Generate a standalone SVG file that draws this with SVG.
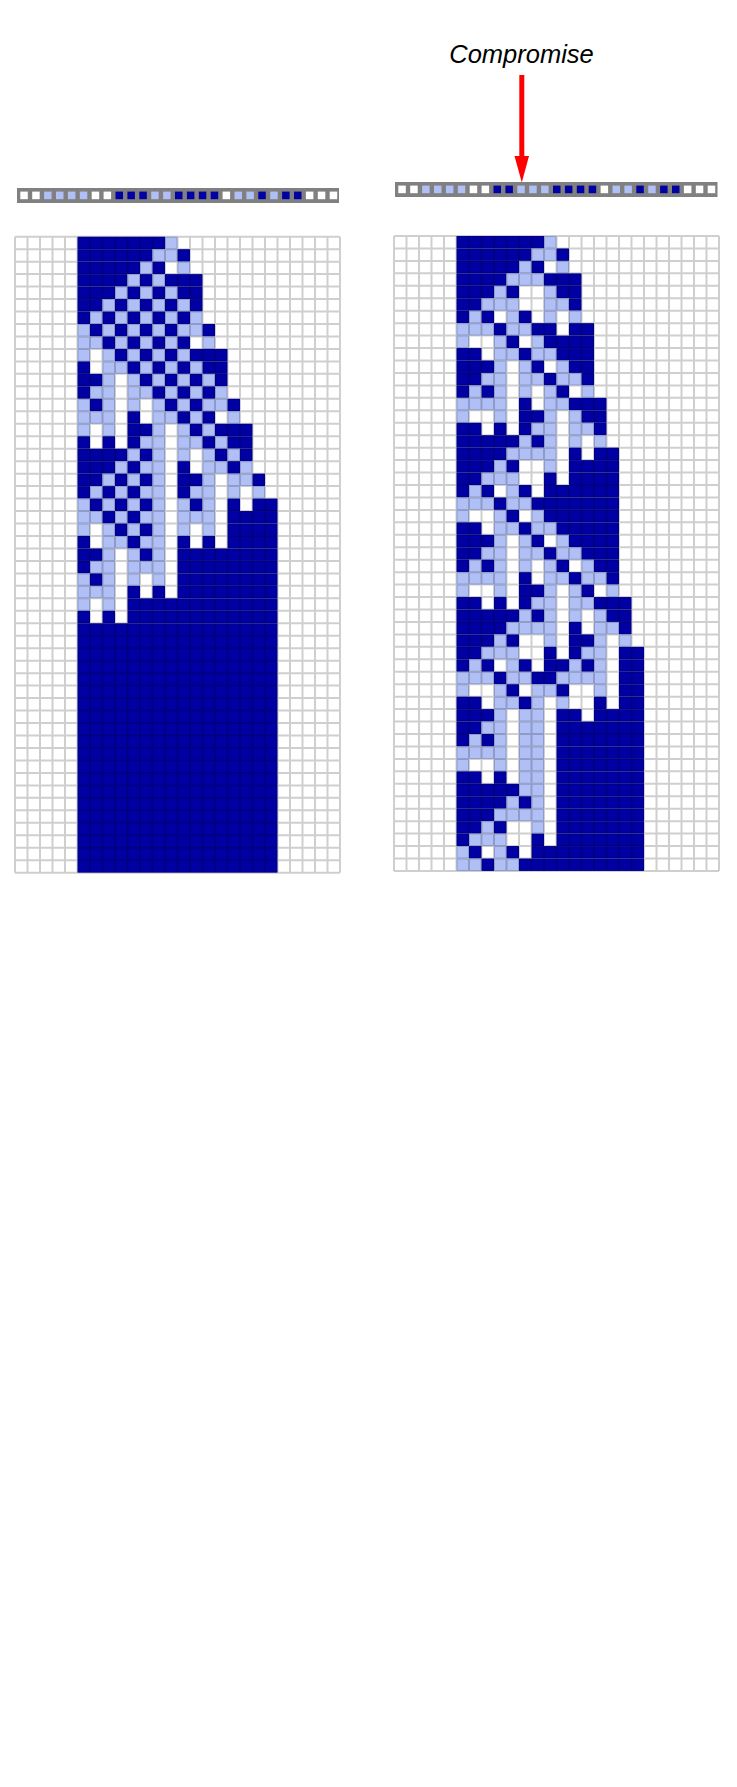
<svg xmlns="http://www.w3.org/2000/svg" xmlns:xlink="http://www.w3.org/1999/xlink" width="737" height="1787" viewBox="0 0 737 1787">
<style>
.d{fill:#0000a3}
.l{fill:#b0bff5}
.w{fill:#ffffff}
.bar{fill:#808080}
.gl{fill:none;stroke:#000;stroke-opacity:.19;stroke-width:2;vector-effect:non-scaling-stroke}
.lbl{font-family:"Liberation Sans",Arial,sans-serif;font-style:italic;font-size:25.5px;fill:#000}
</style>
<defs>
<path id="lines" class="gl" d="M0 0V51M1 0V51M2 0V51M3 0V51M4 0V51M5 0V51M6 0V51M7 0V51M8 0V51M9 0V51M10 0V51M11 0V51M12 0V51M13 0V51M14 0V51M15 0V51M16 0V51M17 0V51M18 0V51M19 0V51M20 0V51M21 0V51M22 0V51M23 0V51M24 0V51M25 0V51M26 0V51M0 0H26M0 1H26M0 2H26M0 3H26M0 4H26M0 5H26M0 6H26M0 7H26M0 8H26M0 9H26M0 10H26M0 11H26M0 12H26M0 13H26M0 14H26M0 15H26M0 16H26M0 17H26M0 18H26M0 19H26M0 20H26M0 21H26M0 22H26M0 23H26M0 24H26M0 25H26M0 26H26M0 27H26M0 28H26M0 29H26M0 30H26M0 31H26M0 32H26M0 33H26M0 34H26M0 35H26M0 36H26M0 37H26M0 38H26M0 39H26M0 40H26M0 41H26M0 42H26M0 43H26M0 44H26M0 45H26M0 46H26M0 47H26M0 48H26M0 49H26M0 50H26M0 51H26"/>
</defs>
<rect x="0" y="0" width="737" height="1787" fill="#ffffff"/>

<g id="label">
<text class="lbl" x="521.5" y="62.5" text-anchor="middle">Compromise</text>
</g>

<g id="connectors">
<line x1="521.8" y1="75" x2="521.8" y2="160" stroke="#ff0000" stroke-width="5"/>
<polygon points="514.5,156 529,156 521.8,182.5" fill="#ff0000"/>
</g>

<g id="rule-left">
<rect class="bar" x="17" y="188" width="322" height="15"/>
<g transform="translate(20.3 191.6)">
<rect class="w" x="0" y="0" width="7.5" height="7.6"/>
<rect class="w" x="11.9" y="0" width="7.5" height="7.6"/>
<rect class="l" x="23.8" y="0" width="7.5" height="7.6"/>
<rect class="l" x="35.7" y="0" width="7.5" height="7.6"/>
<rect class="l" x="47.6" y="0" width="7.5" height="7.6"/>
<rect class="l" x="59.5" y="0" width="7.5" height="7.6"/>
<rect class="w" x="71.4" y="0" width="7.5" height="7.6"/>
<rect class="w" x="83.3" y="0" width="7.5" height="7.6"/>
<rect class="d" x="95.2" y="0" width="7.5" height="7.6"/>
<rect class="d" x="107.1" y="0" width="7.5" height="7.6"/>
<rect class="d" x="119" y="0" width="7.5" height="7.6"/>
<rect class="l" x="130.9" y="0" width="7.5" height="7.6"/>
<rect class="l" x="142.8" y="0" width="7.5" height="7.6"/>
<rect class="d" x="154.7" y="0" width="7.5" height="7.6"/>
<rect class="d" x="166.6" y="0" width="7.5" height="7.6"/>
<rect class="d" x="178.5" y="0" width="7.5" height="7.6"/>
<rect class="d" x="190.4" y="0" width="7.5" height="7.6"/>
<rect class="w" x="202.3" y="0" width="7.5" height="7.6"/>
<rect class="l" x="214.2" y="0" width="7.5" height="7.6"/>
<rect class="l" x="226.1" y="0" width="7.5" height="7.6"/>
<rect class="d" x="238" y="0" width="7.5" height="7.6"/>
<rect class="l" x="249.9" y="0" width="7.5" height="7.6"/>
<rect class="d" x="261.8" y="0" width="7.5" height="7.6"/>
<rect class="d" x="273.7" y="0" width="7.5" height="7.6"/>
<rect class="w" x="285.6" y="0" width="7.5" height="7.6"/>
<rect class="w" x="297.5" y="0" width="7.5" height="7.6"/>
<rect class="w" x="309.4" y="0" width="7.5" height="7.6"/>
</g>
</g>

<g id="rule-right">
<rect class="bar" x="395" y="182" width="322.5" height="15"/>
<g transform="translate(398.3 185.6)">
<rect class="w" x="0" y="0" width="7.5" height="7.6"/>
<rect class="w" x="11.9" y="0" width="7.5" height="7.6"/>
<rect class="l" x="23.8" y="0" width="7.5" height="7.6"/>
<rect class="l" x="35.7" y="0" width="7.5" height="7.6"/>
<rect class="l" x="47.6" y="0" width="7.5" height="7.6"/>
<rect class="l" x="59.5" y="0" width="7.5" height="7.6"/>
<rect class="w" x="71.4" y="0" width="7.5" height="7.6"/>
<rect class="w" x="83.3" y="0" width="7.5" height="7.6"/>
<rect class="d" x="95.2" y="0" width="7.5" height="7.6"/>
<rect class="d" x="107.1" y="0" width="7.5" height="7.6"/>
<rect class="l" x="119" y="0" width="7.5" height="7.6"/>
<rect class="l" x="130.9" y="0" width="7.5" height="7.6"/>
<rect class="l" x="142.8" y="0" width="7.5" height="7.6"/>
<rect class="d" x="154.7" y="0" width="7.5" height="7.6"/>
<rect class="d" x="166.6" y="0" width="7.5" height="7.6"/>
<rect class="d" x="178.5" y="0" width="7.5" height="7.6"/>
<rect class="d" x="190.4" y="0" width="7.5" height="7.6"/>
<rect class="w" x="202.3" y="0" width="7.5" height="7.6"/>
<rect class="l" x="214.2" y="0" width="7.5" height="7.6"/>
<rect class="l" x="226.1" y="0" width="7.5" height="7.6"/>
<rect class="d" x="238" y="0" width="7.5" height="7.6"/>
<rect class="l" x="249.9" y="0" width="7.5" height="7.6"/>
<rect class="d" x="261.8" y="0" width="7.5" height="7.6"/>
<rect class="d" x="273.7" y="0" width="7.5" height="7.6"/>
<rect class="w" x="285.6" y="0" width="7.5" height="7.6"/>
<rect class="w" x="297.5" y="0" width="7.5" height="7.6"/>
<rect class="w" x="309.4" y="0" width="7.5" height="7.6"/>
</g>
</g>

<g id="grid-left" transform="translate(15 236.7) scale(12.5 12.47)">
<rect class="d" x="5" y="0" width="7" height="1"/><rect class="l" x="12" y="0" width="1" height="1"/>
<rect class="d" x="5" y="1" width="6" height="1"/><rect class="l" x="11" y="1" width="2" height="1"/><rect class="d" x="13" y="1" width="1" height="1"/>
<rect class="d" x="5" y="2" width="5" height="1"/><rect class="l" x="10" y="2" width="1" height="1"/><rect class="d" x="11" y="2" width="1" height="1"/><rect class="l" x="13" y="2" width="1" height="1"/>
<rect class="d" x="5" y="3" width="4" height="1"/><rect class="l" x="9" y="3" width="1" height="1"/><rect class="d" x="10" y="3" width="1" height="1"/><rect class="l" x="11" y="3" width="1" height="1"/><rect class="d" x="12" y="3" width="3" height="1"/>
<rect class="d" x="5" y="4" width="3" height="1"/><rect class="l" x="8" y="4" width="1" height="1"/><rect class="d" x="9" y="4" width="1" height="1"/><rect class="l" x="10" y="4" width="1" height="1"/><rect class="d" x="11" y="4" width="1" height="1"/><rect class="l" x="12" y="4" width="1" height="1"/><rect class="d" x="13" y="4" width="2" height="1"/>
<rect class="d" x="5" y="5" width="2" height="1"/><rect class="l" x="7" y="5" width="1" height="1"/><rect class="d" x="8" y="5" width="1" height="1"/><rect class="l" x="9" y="5" width="1" height="1"/><rect class="d" x="10" y="5" width="1" height="1"/><rect class="l" x="11" y="5" width="1" height="1"/><rect class="d" x="12" y="5" width="1" height="1"/><rect class="l" x="13" y="5" width="1" height="1"/><rect class="d" x="14" y="5" width="1" height="1"/>
<rect class="d" x="5" y="6" width="1" height="1"/><rect class="l" x="6" y="6" width="1" height="1"/><rect class="d" x="7" y="6" width="1" height="1"/><rect class="l" x="8" y="6" width="1" height="1"/><rect class="d" x="9" y="6" width="1" height="1"/><rect class="l" x="10" y="6" width="1" height="1"/><rect class="d" x="11" y="6" width="1" height="1"/><rect class="l" x="12" y="6" width="1" height="1"/><rect class="d" x="13" y="6" width="1" height="1"/><rect class="l" x="14" y="6" width="1" height="1"/>
<rect class="l" x="5" y="7" width="1" height="1"/><rect class="d" x="6" y="7" width="1" height="1"/><rect class="l" x="7" y="7" width="1" height="1"/><rect class="d" x="8" y="7" width="1" height="1"/><rect class="l" x="9" y="7" width="1" height="1"/><rect class="d" x="10" y="7" width="1" height="1"/><rect class="l" x="11" y="7" width="1" height="1"/><rect class="d" x="12" y="7" width="1" height="1"/><rect class="l" x="13" y="7" width="2" height="1"/><rect class="d" x="15" y="7" width="1" height="1"/>
<rect class="l" x="5" y="8" width="2" height="1"/><rect class="d" x="7" y="8" width="1" height="1"/><rect class="l" x="8" y="8" width="1" height="1"/><rect class="d" x="9" y="8" width="1" height="1"/><rect class="l" x="10" y="8" width="1" height="1"/><rect class="d" x="11" y="8" width="1" height="1"/><rect class="l" x="12" y="8" width="1" height="1"/><rect class="d" x="13" y="8" width="1" height="1"/><rect class="l" x="15" y="8" width="1" height="1"/>
<rect class="l" x="5" y="9" width="1" height="1"/><rect class="l" x="7" y="9" width="1" height="1"/><rect class="d" x="8" y="9" width="1" height="1"/><rect class="l" x="9" y="9" width="1" height="1"/><rect class="d" x="10" y="9" width="1" height="1"/><rect class="l" x="11" y="9" width="1" height="1"/><rect class="d" x="12" y="9" width="1" height="1"/><rect class="l" x="13" y="9" width="1" height="1"/><rect class="d" x="14" y="9" width="3" height="1"/>
<rect class="d" x="5" y="10" width="1" height="1"/><rect class="l" x="7" y="10" width="2" height="1"/><rect class="d" x="9" y="10" width="1" height="1"/><rect class="l" x="10" y="10" width="1" height="1"/><rect class="d" x="11" y="10" width="1" height="1"/><rect class="l" x="12" y="10" width="1" height="1"/><rect class="d" x="13" y="10" width="1" height="1"/><rect class="l" x="14" y="10" width="1" height="1"/><rect class="d" x="15" y="10" width="2" height="1"/>
<rect class="d" x="5" y="11" width="2" height="1"/><rect class="l" x="7" y="11" width="1" height="1"/><rect class="l" x="9" y="11" width="1" height="1"/><rect class="d" x="10" y="11" width="1" height="1"/><rect class="l" x="11" y="11" width="1" height="1"/><rect class="d" x="12" y="11" width="1" height="1"/><rect class="l" x="13" y="11" width="1" height="1"/><rect class="d" x="14" y="11" width="1" height="1"/><rect class="l" x="15" y="11" width="1" height="1"/><rect class="d" x="16" y="11" width="1" height="1"/>
<rect class="d" x="5" y="12" width="1" height="1"/><rect class="l" x="6" y="12" width="2" height="1"/><rect class="l" x="9" y="12" width="2" height="1"/><rect class="d" x="11" y="12" width="1" height="1"/><rect class="l" x="12" y="12" width="1" height="1"/><rect class="d" x="13" y="12" width="1" height="1"/><rect class="l" x="14" y="12" width="1" height="1"/><rect class="d" x="15" y="12" width="1" height="1"/><rect class="l" x="16" y="12" width="1" height="1"/>
<rect class="l" x="5" y="13" width="1" height="1"/><rect class="d" x="6" y="13" width="1" height="1"/><rect class="l" x="7" y="13" width="1" height="1"/><rect class="l" x="9" y="13" width="1" height="1"/><rect class="l" x="11" y="13" width="1" height="1"/><rect class="d" x="12" y="13" width="1" height="1"/><rect class="l" x="13" y="13" width="1" height="1"/><rect class="d" x="14" y="13" width="1" height="1"/><rect class="l" x="15" y="13" width="2" height="1"/><rect class="d" x="17" y="13" width="1" height="1"/>
<rect class="l" x="5" y="14" width="3" height="1"/><rect class="d" x="9" y="14" width="1" height="1"/><rect class="l" x="11" y="14" width="2" height="1"/><rect class="d" x="13" y="14" width="1" height="1"/><rect class="l" x="14" y="14" width="1" height="1"/><rect class="d" x="15" y="14" width="1" height="1"/><rect class="l" x="17" y="14" width="1" height="1"/>
<rect class="l" x="5" y="15" width="1" height="1"/><rect class="l" x="7" y="15" width="1" height="1"/><rect class="d" x="9" y="15" width="2" height="1"/><rect class="l" x="11" y="15" width="1" height="1"/><rect class="l" x="13" y="15" width="1" height="1"/><rect class="d" x="14" y="15" width="1" height="1"/><rect class="l" x="15" y="15" width="1" height="1"/><rect class="d" x="16" y="15" width="3" height="1"/>
<rect class="d" x="5" y="16" width="1" height="1"/><rect class="d" x="7" y="16" width="1" height="1"/><rect class="d" x="9" y="16" width="1" height="1"/><rect class="l" x="10" y="16" width="2" height="1"/><rect class="l" x="13" y="16" width="2" height="1"/><rect class="d" x="15" y="16" width="1" height="1"/><rect class="l" x="16" y="16" width="1" height="1"/><rect class="d" x="17" y="16" width="2" height="1"/>
<rect class="d" x="5" y="17" width="4" height="1"/><rect class="l" x="9" y="17" width="1" height="1"/><rect class="d" x="10" y="17" width="1" height="1"/><rect class="l" x="11" y="17" width="1" height="1"/><rect class="l" x="13" y="17" width="1" height="1"/><rect class="l" x="15" y="17" width="1" height="1"/><rect class="d" x="16" y="17" width="1" height="1"/><rect class="l" x="17" y="17" width="1" height="1"/><rect class="d" x="18" y="17" width="1" height="1"/>
<rect class="d" x="5" y="18" width="3" height="1"/><rect class="l" x="8" y="18" width="1" height="1"/><rect class="d" x="9" y="18" width="1" height="1"/><rect class="l" x="10" y="18" width="2" height="1"/><rect class="d" x="13" y="18" width="1" height="1"/><rect class="l" x="15" y="18" width="2" height="1"/><rect class="d" x="17" y="18" width="1" height="1"/><rect class="l" x="18" y="18" width="1" height="1"/>
<rect class="d" x="5" y="19" width="2" height="1"/><rect class="l" x="7" y="19" width="1" height="1"/><rect class="d" x="8" y="19" width="1" height="1"/><rect class="l" x="9" y="19" width="1" height="1"/><rect class="d" x="10" y="19" width="1" height="1"/><rect class="l" x="11" y="19" width="1" height="1"/><rect class="d" x="13" y="19" width="2" height="1"/><rect class="l" x="15" y="19" width="1" height="1"/><rect class="l" x="17" y="19" width="2" height="1"/><rect class="d" x="19" y="19" width="1" height="1"/>
<rect class="d" x="5" y="20" width="1" height="1"/><rect class="l" x="6" y="20" width="1" height="1"/><rect class="d" x="7" y="20" width="1" height="1"/><rect class="l" x="8" y="20" width="1" height="1"/><rect class="d" x="9" y="20" width="1" height="1"/><rect class="l" x="10" y="20" width="2" height="1"/><rect class="d" x="13" y="20" width="1" height="1"/><rect class="l" x="14" y="20" width="2" height="1"/><rect class="l" x="17" y="20" width="1" height="1"/><rect class="l" x="19" y="20" width="1" height="1"/>
<rect class="l" x="5" y="21" width="1" height="1"/><rect class="d" x="6" y="21" width="1" height="1"/><rect class="l" x="7" y="21" width="1" height="1"/><rect class="d" x="8" y="21" width="1" height="1"/><rect class="l" x="9" y="21" width="1" height="1"/><rect class="d" x="10" y="21" width="1" height="1"/><rect class="l" x="11" y="21" width="1" height="1"/><rect class="l" x="13" y="21" width="1" height="1"/><rect class="d" x="14" y="21" width="1" height="1"/><rect class="l" x="15" y="21" width="1" height="1"/><rect class="d" x="17" y="21" width="1" height="1"/><rect class="d" x="19" y="21" width="2" height="1"/>
<rect class="l" x="5" y="22" width="2" height="1"/><rect class="d" x="7" y="22" width="1" height="1"/><rect class="l" x="8" y="22" width="1" height="1"/><rect class="d" x="9" y="22" width="1" height="1"/><rect class="l" x="10" y="22" width="2" height="1"/><rect class="l" x="13" y="22" width="3" height="1"/><rect class="d" x="17" y="22" width="4" height="1"/>
<rect class="l" x="5" y="23" width="1" height="1"/><rect class="l" x="7" y="23" width="1" height="1"/><rect class="d" x="8" y="23" width="1" height="1"/><rect class="l" x="9" y="23" width="1" height="1"/><rect class="d" x="10" y="23" width="1" height="1"/><rect class="l" x="11" y="23" width="1" height="1"/><rect class="l" x="13" y="23" width="1" height="1"/><rect class="l" x="15" y="23" width="1" height="1"/><rect class="d" x="17" y="23" width="4" height="1"/>
<rect class="d" x="5" y="24" width="1" height="1"/><rect class="l" x="7" y="24" width="2" height="1"/><rect class="d" x="9" y="24" width="1" height="1"/><rect class="l" x="10" y="24" width="2" height="1"/><rect class="d" x="13" y="24" width="1" height="1"/><rect class="d" x="15" y="24" width="1" height="1"/><rect class="d" x="17" y="24" width="4" height="1"/>
<rect class="d" x="5" y="25" width="2" height="1"/><rect class="l" x="7" y="25" width="1" height="1"/><rect class="l" x="9" y="25" width="1" height="1"/><rect class="d" x="10" y="25" width="1" height="1"/><rect class="l" x="11" y="25" width="1" height="1"/><rect class="d" x="13" y="25" width="8" height="1"/>
<rect class="d" x="5" y="26" width="1" height="1"/><rect class="l" x="6" y="26" width="2" height="1"/><rect class="l" x="9" y="26" width="3" height="1"/><rect class="d" x="13" y="26" width="8" height="1"/>
<rect class="l" x="5" y="27" width="1" height="1"/><rect class="d" x="6" y="27" width="1" height="1"/><rect class="l" x="7" y="27" width="1" height="1"/><rect class="l" x="9" y="27" width="1" height="1"/><rect class="l" x="11" y="27" width="1" height="1"/><rect class="d" x="13" y="27" width="8" height="1"/>
<rect class="l" x="5" y="28" width="3" height="1"/><rect class="d" x="9" y="28" width="1" height="1"/><rect class="d" x="11" y="28" width="1" height="1"/><rect class="d" x="13" y="28" width="8" height="1"/>
<rect class="l" x="5" y="29" width="1" height="1"/><rect class="l" x="7" y="29" width="1" height="1"/><rect class="d" x="9" y="29" width="12" height="1"/>
<rect class="d" x="5" y="30" width="1" height="1"/><rect class="d" x="7" y="30" width="1" height="1"/><rect class="d" x="9" y="30" width="12" height="1"/>
<rect class="d" x="5" y="31" width="16" height="20"/>
<use xlink:href="#lines"/>
</g>

<g id="grid-right" transform="translate(394 236) scale(12.5 12.45)">
<rect class="d" x="5" y="0" width="7" height="1"/><rect class="l" x="12" y="0" width="1" height="1"/>
<rect class="d" x="5" y="1" width="6" height="1"/><rect class="l" x="11" y="1" width="2" height="1"/><rect class="d" x="13" y="1" width="1" height="1"/>
<rect class="d" x="5" y="2" width="5" height="1"/><rect class="l" x="10" y="2" width="1" height="1"/><rect class="d" x="11" y="2" width="1" height="1"/><rect class="l" x="13" y="2" width="1" height="1"/>
<rect class="d" x="5" y="3" width="4" height="1"/><rect class="l" x="9" y="3" width="3" height="1"/><rect class="d" x="12" y="3" width="3" height="1"/>
<rect class="d" x="5" y="4" width="3" height="1"/><rect class="l" x="8" y="4" width="1" height="1"/><rect class="d" x="9" y="4" width="1" height="1"/><rect class="l" x="12" y="4" width="1" height="1"/><rect class="d" x="13" y="4" width="2" height="1"/>
<rect class="d" x="5" y="5" width="2" height="1"/><rect class="l" x="7" y="5" width="3" height="1"/><rect class="l" x="12" y="5" width="2" height="1"/><rect class="d" x="14" y="5" width="1" height="1"/>
<rect class="d" x="5" y="6" width="1" height="1"/><rect class="l" x="6" y="6" width="1" height="1"/><rect class="d" x="7" y="6" width="1" height="1"/><rect class="l" x="9" y="6" width="1" height="1"/><rect class="d" x="10" y="6" width="1" height="1"/><rect class="l" x="12" y="6" width="1" height="1"/><rect class="l" x="14" y="6" width="1" height="1"/>
<rect class="l" x="5" y="7" width="3" height="1"/><rect class="d" x="8" y="7" width="1" height="1"/><rect class="l" x="9" y="7" width="2" height="1"/><rect class="d" x="11" y="7" width="2" height="1"/><rect class="d" x="14" y="7" width="2" height="1"/>
<rect class="l" x="5" y="8" width="1" height="1"/><rect class="l" x="8" y="8" width="1" height="1"/><rect class="d" x="9" y="8" width="1" height="1"/><rect class="l" x="11" y="8" width="1" height="1"/><rect class="d" x="12" y="8" width="4" height="1"/>
<rect class="d" x="5" y="9" width="2" height="1"/><rect class="l" x="8" y="9" width="2" height="1"/><rect class="d" x="10" y="9" width="1" height="1"/><rect class="l" x="11" y="9" width="2" height="1"/><rect class="d" x="13" y="9" width="3" height="1"/>
<rect class="d" x="5" y="10" width="3" height="1"/><rect class="l" x="8" y="10" width="1" height="1"/><rect class="l" x="10" y="10" width="1" height="1"/><rect class="d" x="11" y="10" width="1" height="1"/><rect class="l" x="13" y="10" width="1" height="1"/><rect class="d" x="14" y="10" width="2" height="1"/>
<rect class="d" x="5" y="11" width="2" height="1"/><rect class="l" x="7" y="11" width="2" height="1"/><rect class="l" x="10" y="11" width="2" height="1"/><rect class="d" x="12" y="11" width="1" height="1"/><rect class="l" x="13" y="11" width="2" height="1"/><rect class="d" x="15" y="11" width="1" height="1"/>
<rect class="d" x="5" y="12" width="1" height="1"/><rect class="l" x="6" y="12" width="1" height="1"/><rect class="d" x="7" y="12" width="1" height="1"/><rect class="l" x="8" y="12" width="1" height="1"/><rect class="l" x="10" y="12" width="1" height="1"/><rect class="l" x="12" y="12" width="1" height="1"/><rect class="d" x="13" y="12" width="1" height="1"/><rect class="l" x="15" y="12" width="1" height="1"/>
<rect class="l" x="5" y="13" width="4" height="1"/><rect class="d" x="10" y="13" width="1" height="1"/><rect class="l" x="12" y="13" width="2" height="1"/><rect class="d" x="14" y="13" width="3" height="1"/>
<rect class="l" x="5" y="14" width="1" height="1"/><rect class="l" x="8" y="14" width="1" height="1"/><rect class="d" x="10" y="14" width="2" height="1"/><rect class="l" x="12" y="14" width="1" height="1"/><rect class="l" x="14" y="14" width="1" height="1"/><rect class="d" x="15" y="14" width="2" height="1"/>
<rect class="d" x="5" y="15" width="2" height="1"/><rect class="d" x="8" y="15" width="1" height="1"/><rect class="d" x="10" y="15" width="1" height="1"/><rect class="l" x="11" y="15" width="2" height="1"/><rect class="l" x="14" y="15" width="2" height="1"/><rect class="d" x="16" y="15" width="1" height="1"/>
<rect class="d" x="5" y="16" width="5" height="1"/><rect class="l" x="10" y="16" width="1" height="1"/><rect class="d" x="11" y="16" width="1" height="1"/><rect class="l" x="12" y="16" width="1" height="1"/><rect class="l" x="14" y="16" width="1" height="1"/><rect class="l" x="16" y="16" width="1" height="1"/>
<rect class="d" x="5" y="17" width="4" height="1"/><rect class="l" x="9" y="17" width="4" height="1"/><rect class="d" x="14" y="17" width="1" height="1"/><rect class="d" x="16" y="17" width="2" height="1"/>
<rect class="d" x="5" y="18" width="3" height="1"/><rect class="l" x="8" y="18" width="1" height="1"/><rect class="d" x="9" y="18" width="1" height="1"/><rect class="l" x="12" y="18" width="1" height="1"/><rect class="d" x="14" y="18" width="4" height="1"/>
<rect class="d" x="5" y="19" width="2" height="1"/><rect class="l" x="7" y="19" width="3" height="1"/><rect class="d" x="12" y="19" width="1" height="1"/><rect class="d" x="14" y="19" width="4" height="1"/>
<rect class="d" x="5" y="20" width="1" height="1"/><rect class="l" x="6" y="20" width="1" height="1"/><rect class="d" x="7" y="20" width="1" height="1"/><rect class="l" x="9" y="20" width="1" height="1"/><rect class="d" x="10" y="20" width="1" height="1"/><rect class="d" x="12" y="20" width="6" height="1"/>
<rect class="l" x="5" y="21" width="3" height="1"/><rect class="d" x="8" y="21" width="1" height="1"/><rect class="l" x="9" y="21" width="2" height="1"/><rect class="d" x="11" y="21" width="7" height="1"/>
<rect class="l" x="5" y="22" width="1" height="1"/><rect class="l" x="8" y="22" width="1" height="1"/><rect class="d" x="9" y="22" width="1" height="1"/><rect class="l" x="11" y="22" width="1" height="1"/><rect class="d" x="12" y="22" width="6" height="1"/>
<rect class="d" x="5" y="23" width="2" height="1"/><rect class="l" x="8" y="23" width="2" height="1"/><rect class="d" x="10" y="23" width="1" height="1"/><rect class="l" x="11" y="23" width="2" height="1"/><rect class="d" x="13" y="23" width="5" height="1"/>
<rect class="d" x="5" y="24" width="3" height="1"/><rect class="l" x="8" y="24" width="1" height="1"/><rect class="l" x="10" y="24" width="1" height="1"/><rect class="d" x="11" y="24" width="1" height="1"/><rect class="l" x="13" y="24" width="1" height="1"/><rect class="d" x="14" y="24" width="4" height="1"/>
<rect class="d" x="5" y="25" width="2" height="1"/><rect class="l" x="7" y="25" width="2" height="1"/><rect class="l" x="10" y="25" width="2" height="1"/><rect class="d" x="12" y="25" width="1" height="1"/><rect class="l" x="13" y="25" width="2" height="1"/><rect class="d" x="15" y="25" width="3" height="1"/>
<rect class="d" x="5" y="26" width="1" height="1"/><rect class="l" x="6" y="26" width="1" height="1"/><rect class="d" x="7" y="26" width="1" height="1"/><rect class="l" x="8" y="26" width="1" height="1"/><rect class="l" x="10" y="26" width="1" height="1"/><rect class="l" x="12" y="26" width="1" height="1"/><rect class="d" x="13" y="26" width="1" height="1"/><rect class="l" x="15" y="26" width="1" height="1"/><rect class="d" x="16" y="26" width="2" height="1"/>
<rect class="l" x="5" y="27" width="4" height="1"/><rect class="d" x="10" y="27" width="1" height="1"/><rect class="l" x="12" y="27" width="2" height="1"/><rect class="d" x="14" y="27" width="1" height="1"/><rect class="l" x="15" y="27" width="2" height="1"/><rect class="d" x="17" y="27" width="1" height="1"/>
<rect class="l" x="5" y="28" width="1" height="1"/><rect class="l" x="8" y="28" width="1" height="1"/><rect class="d" x="10" y="28" width="2" height="1"/><rect class="l" x="12" y="28" width="1" height="1"/><rect class="l" x="14" y="28" width="1" height="1"/><rect class="d" x="15" y="28" width="1" height="1"/><rect class="l" x="17" y="28" width="1" height="1"/>
<rect class="d" x="5" y="29" width="2" height="1"/><rect class="d" x="8" y="29" width="1" height="1"/><rect class="d" x="10" y="29" width="1" height="1"/><rect class="l" x="11" y="29" width="2" height="1"/><rect class="l" x="14" y="29" width="2" height="1"/><rect class="d" x="16" y="29" width="3" height="1"/>
<rect class="d" x="5" y="30" width="5" height="1"/><rect class="l" x="10" y="30" width="1" height="1"/><rect class="d" x="11" y="30" width="1" height="1"/><rect class="l" x="12" y="30" width="1" height="1"/><rect class="l" x="14" y="30" width="1" height="1"/><rect class="l" x="16" y="30" width="1" height="1"/><rect class="d" x="17" y="30" width="2" height="1"/>
<rect class="d" x="5" y="31" width="4" height="1"/><rect class="l" x="9" y="31" width="4" height="1"/><rect class="d" x="14" y="31" width="1" height="1"/><rect class="l" x="16" y="31" width="2" height="1"/><rect class="d" x="18" y="31" width="1" height="1"/>
<rect class="d" x="5" y="32" width="3" height="1"/><rect class="l" x="8" y="32" width="1" height="1"/><rect class="d" x="9" y="32" width="1" height="1"/><rect class="l" x="12" y="32" width="1" height="1"/><rect class="d" x="14" y="32" width="2" height="1"/><rect class="l" x="16" y="32" width="1" height="1"/><rect class="l" x="18" y="32" width="1" height="1"/>
<rect class="d" x="5" y="33" width="2" height="1"/><rect class="l" x="7" y="33" width="3" height="1"/><rect class="d" x="12" y="33" width="1" height="1"/><rect class="d" x="14" y="33" width="1" height="1"/><rect class="l" x="15" y="33" width="2" height="1"/><rect class="d" x="18" y="33" width="2" height="1"/>
<rect class="d" x="5" y="34" width="1" height="1"/><rect class="l" x="6" y="34" width="1" height="1"/><rect class="d" x="7" y="34" width="1" height="1"/><rect class="l" x="9" y="34" width="1" height="1"/><rect class="d" x="10" y="34" width="1" height="1"/><rect class="d" x="12" y="34" width="2" height="1"/><rect class="l" x="14" y="34" width="1" height="1"/><rect class="d" x="15" y="34" width="1" height="1"/><rect class="l" x="16" y="34" width="1" height="1"/><rect class="d" x="18" y="34" width="2" height="1"/>
<rect class="l" x="5" y="35" width="3" height="1"/><rect class="d" x="8" y="35" width="1" height="1"/><rect class="l" x="9" y="35" width="2" height="1"/><rect class="d" x="11" y="35" width="2" height="1"/><rect class="l" x="13" y="35" width="4" height="1"/><rect class="d" x="18" y="35" width="2" height="1"/>
<rect class="l" x="5" y="36" width="1" height="1"/><rect class="l" x="8" y="36" width="1" height="1"/><rect class="d" x="9" y="36" width="1" height="1"/><rect class="l" x="11" y="36" width="2" height="1"/><rect class="d" x="13" y="36" width="1" height="1"/><rect class="l" x="16" y="36" width="1" height="1"/><rect class="d" x="18" y="36" width="2" height="1"/>
<rect class="d" x="5" y="37" width="2" height="1"/><rect class="l" x="8" y="37" width="2" height="1"/><rect class="d" x="10" y="37" width="1" height="1"/><rect class="l" x="11" y="37" width="1" height="1"/><rect class="l" x="13" y="37" width="1" height="1"/><rect class="d" x="16" y="37" width="1" height="1"/><rect class="d" x="18" y="37" width="2" height="1"/>
<rect class="d" x="5" y="38" width="3" height="1"/><rect class="l" x="8" y="38" width="1" height="1"/><rect class="l" x="10" y="38" width="2" height="1"/><rect class="d" x="13" y="38" width="2" height="1"/><rect class="d" x="16" y="38" width="4" height="1"/>
<rect class="d" x="5" y="39" width="2" height="1"/><rect class="l" x="7" y="39" width="2" height="1"/><rect class="l" x="10" y="39" width="2" height="1"/><rect class="d" x="13" y="39" width="7" height="1"/>
<rect class="d" x="5" y="40" width="1" height="1"/><rect class="l" x="6" y="40" width="1" height="1"/><rect class="d" x="7" y="40" width="1" height="1"/><rect class="l" x="8" y="40" width="1" height="1"/><rect class="l" x="10" y="40" width="2" height="1"/><rect class="d" x="13" y="40" width="7" height="1"/>
<rect class="l" x="5" y="41" width="4" height="1"/><rect class="l" x="10" y="41" width="2" height="1"/><rect class="d" x="13" y="41" width="7" height="1"/>
<rect class="l" x="5" y="42" width="1" height="1"/><rect class="l" x="8" y="42" width="1" height="1"/><rect class="l" x="10" y="42" width="2" height="1"/><rect class="d" x="13" y="42" width="7" height="1"/>
<rect class="d" x="5" y="43" width="2" height="1"/><rect class="d" x="8" y="43" width="1" height="1"/><rect class="l" x="10" y="43" width="2" height="1"/><rect class="d" x="13" y="43" width="7" height="1"/>
<rect class="d" x="5" y="44" width="5" height="1"/><rect class="l" x="10" y="44" width="2" height="1"/><rect class="d" x="13" y="44" width="7" height="1"/>
<rect class="d" x="5" y="45" width="4" height="1"/><rect class="l" x="9" y="45" width="1" height="1"/><rect class="d" x="10" y="45" width="1" height="1"/><rect class="l" x="11" y="45" width="1" height="1"/><rect class="d" x="13" y="45" width="7" height="1"/>
<rect class="d" x="5" y="46" width="3" height="1"/><rect class="l" x="8" y="46" width="4" height="1"/><rect class="d" x="13" y="46" width="7" height="1"/>
<rect class="d" x="5" y="47" width="2" height="1"/><rect class="l" x="7" y="47" width="1" height="1"/><rect class="d" x="8" y="47" width="1" height="1"/><rect class="l" x="11" y="47" width="1" height="1"/><rect class="d" x="13" y="47" width="7" height="1"/>
<rect class="d" x="5" y="48" width="1" height="1"/><rect class="l" x="6" y="48" width="3" height="1"/><rect class="d" x="11" y="48" width="1" height="1"/><rect class="d" x="13" y="48" width="7" height="1"/>
<rect class="l" x="5" y="49" width="1" height="1"/><rect class="d" x="6" y="49" width="1" height="1"/><rect class="l" x="8" y="49" width="1" height="1"/><rect class="d" x="9" y="49" width="1" height="1"/><rect class="d" x="11" y="49" width="9" height="1"/>
<rect class="l" x="5" y="50" width="2" height="1"/><rect class="d" x="7" y="50" width="1" height="1"/><rect class="l" x="8" y="50" width="2" height="1"/><rect class="d" x="10" y="50" width="10" height="1"/>
<use xlink:href="#lines"/>
</g>
</svg>
